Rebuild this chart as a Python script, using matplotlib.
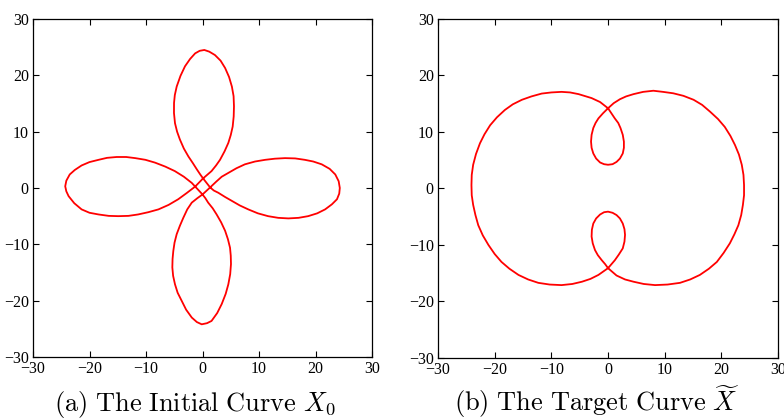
import matplotlib
matplotlib.use("Agg")
import matplotlib.pyplot as plt

plt.rcParams["mathtext.fontset"] = "cm"
plt.rcParams["font.family"] = ["Liberation Serif", "DejaVu Serif"]
plt.rcParams["axes.unicode_minus"] = True

# ---- (a) initial curve, in drawing order ----
init_x = [0.1, 1.35, 2.0,
          2.8, 4.0, 5.2, 6.6, 8.1, 9.8, 11.6, 13.4, 15.2, 17.0, 18.7, 20.3, 21.7, 22.9, 23.8,
          24.2, 24.3, 24.1, 23.5, 22.5, 21.1, 19.6, 18.1, 16.4, 14.6, 12.8, 11.1, 9.3, 7.5,
          6.0, 4.6, 3.4, 2.4, 1.35, 0.0,
          -0.9, -1.9, -2.7, -3.4, -4.0, -4.57, -4.95, -5.17, -5.3, -5.34, -5.2, -4.87, -4.4,
          -3.7, -2.9, -1.9, -1.0, -0.14, 0.8, 1.6, 2.6, 3.4, 4.1, 4.57, 4.9, 5.04, 5.0, 4.87,
          4.5, 4.0, 3.3, 2.5, 1.8, 1.0, 0.5, 0.0, -1.3,
          -1.9, -3.3, -4.9, -6.6, -8.4, -10.1, -11.9, -13.5, -15.2, -16.9, -18.4, -20.0,
          -21.4, -22.6, -23.5, -24.1, -24.3, -24.1, -23.7, -22.7, -21.4, -20.0, -18.4,
          -16.6, -14.9, -13.1, -11.4, -9.6, -7.8, -6.0, -4.3, -2.8, -1.3, 0.1,
          0.8, 1.6, 2.4, 3.1, 3.9, 4.57, 5.0, 5.34, 5.52, 5.57, 5.5, 5.2, 4.7, 4.0, 3.2, 2.2,
          1.2, 0.32, -0.5, -1.3, -2.2, -3.1, -3.9, -4.57, -4.9, -5.04, -5.05, -4.87, -4.5,
          -4.0, -3.3, -2.5, -1.7, -1.0, -0.4, 0.1]
init_y = [1.7, 0.1, -0.45,
          -0.85, -1.6, -2.3, -3.1, -3.8, -4.5, -5.0, -5.3, -5.4, -5.3, -5.0, -4.5, -3.8,
          -2.9, -2.0, -1.0, 0.0, 1.2, 2.4, 3.4, 4.2, 4.7, 5.0, 5.25, 5.3, 5.2, 5.0, 4.7,
          4.2, 3.5, 2.7, 2.0, 1.1, 0.1, -1.15,
          -1.8, -2.6, -3.8, -5.3, -6.7, -8.2, -9.7, -11.2, -12.6, -14.1, -15.6, -17.1,
          -18.6, -20.0, -21.6, -23.0, -23.8, -24.2, -24.0, -23.6, -22.2, -20.6, -18.8,
          -17.1, -15.3, -13.5, -12.0, -10.6, -9.1, -7.6, -6.1, -4.7, -3.6, -2.6, -1.8,
          -1.15, 0.25,
          0.9, 2.0, 3.0, 3.8, 4.5, 5.0, 5.3, 5.5, 5.5, 5.35, 5.0, 4.6, 4.0, 3.2, 2.4, 1.3,
          0.3, -0.6, -1.45, -2.7, -3.8, -4.4, -4.7, -4.95, -5.0, -4.95, -4.7, -4.3, -3.8,
          -3.0, -2.0, -0.9, 0.25, 1.7,
          2.3, 3.0, 4.0, 5.0, 6.5, 8.0, 9.4, 10.9, 12.7, 14.5, 16.3, 18.0, 19.7, 21.3, 22.6,
          23.6, 24.2, 24.5, 24.35, 23.9, 22.9, 21.6, 19.9, 18.0, 16.5, 15.1, 13.3, 11.5,
          10.0, 8.6, 7.0, 5.6, 4.4, 3.3, 2.4, 1.7]

# ---- (b) target curve ----
target_x = [0.0, -1.4, -2.9, -5.2, -6.7, -8.2, -10.0, -11.7, -13.5, -15.2, -16.8, -18.2,
            -19.6, -20.8, -21.8, -22.6, -23.3, -23.8, -24.05, -24.1, -24.05, -23.8, -23.4,
            -22.9, -22.1, -21.1, -20.0, -18.8, -17.4, -15.8, -14.1, -12.3, -10.3, -8.2,
            -6.3, -4.6, -3.1, -1.7, 0.0,
            0.6, 1.2, 1.9, 2.6, 2.9, 3.0, 2.9, 2.6, 2.1, 1.5, 0.8, 0.0, -0.7, -1.4, -2.1,
            -2.6, -2.85, -2.9, -2.7, -2.3, -1.8, -1.1, -0.5, 0.0,
            1.5, 3.0, 4.5, 6.3, 8.3, 10.5, 12.7, 14.5, 16.2, 17.8, 19.2, 20.4, 21.5, 22.3,
            23.0, 23.5, 23.8, 24.0, 24.0, 23.9, 23.6, 23.1, 22.4, 21.6, 20.6, 19.4, 18.0,
            16.6, 15.1, 13.3, 11.5, 9.7, 8.0, 6.2, 4.5, 3.2, 2.1, 1.0, 0.0,
            -0.9, -1.7, -2.2, -2.6, -2.9, -3.0, -2.9, -2.6, -2.1, -1.4, -0.7, 0.0, 0.8, 1.5,
            2.1, 2.6, 2.8, 2.8, 2.6, 2.2, 1.8, 1.2, 0.6, 0.0]
target_y = [14.2, 15.3, 16.0, 16.7, 17.0, 17.1, 17.0, 16.8, 16.3, 15.7, 14.9, 13.9,
            12.6, 11.2, 9.6, 8.0, 6.1, 4.2, 2.4, 0.6, -1.2, -2.9, -4.7,
            -6.5, -8.3, -10.0, -11.6, -13.0, -14.2, -15.3, -16.1, -16.7, -17.0, -17.1,
            -16.9, -16.5, -16.0, -15.3, -14.1,
            -13.4, -12.7, -11.7, -10.6, -9.4, -8.2, -7.2, -6.2, -5.3, -4.7, -4.3, -4.1,
            -4.2, -4.6, -5.3, -6.2, -7.3, -8.5, -9.7, -10.9, -11.8, -12.7, -13.4, -14.1,
            -15.4, -16.1, -16.5, -16.9, -17.1, -17.0, -16.7, -16.1, -15.3, -14.2, -13.0,
            -11.4, -9.7, -8.1, -6.5, -4.7, -2.9, -1.2, 0.6, 2.4, 4.2, 6.0, 7.7, 9.3, 10.9,
            12.3, 13.6, 14.8, 15.7, 16.4, 16.85, 17.1, 17.3, 17.1, 16.7, 16.3, 15.8, 15.1,
            14.2,
            13.3, 12.4, 11.6, 10.7, 9.5, 8.3, 7.2, 6.2, 5.3, 4.6, 4.3, 4.2, 4.3, 4.7, 5.3,
            6.2, 7.2, 8.3, 9.5, 10.7, 11.6, 12.4, 13.3, 14.2]

ticks = [-30, -20, -10, 0, 10, 20, 30]
captions = [r"$\mathrm{(a)\ The\ Initial\ Curve}\ X_0$",
            r"$\mathrm{(b)\ The\ Target\ Curve}\ \widetilde{X}$"]

fig = plt.figure(figsize=(7.84, 4.19), dpi=100)
ax1 = fig.add_axes([0.0421, 0.148, 0.4324, 0.8067])
ax2 = fig.add_axes([0.5587, 0.1456, 0.4337, 0.8091])

for ax, xs, ys in [(ax1, init_x, init_y), (ax2, target_x, target_y)]:
    ax.plot(xs, ys, color="red", lw=1.3, solid_joinstyle="round")
    ax.set_xlim(-30, 30)
    ax.set_ylim(-30, 30)
    ax.set_xticks(ticks)
    ax.set_yticks(ticks)
    ax.tick_params(direction="in", top=True, right=True, length=4, width=0.8,
                   labelsize=11.5, pad=3)
    for s in ax.spines.values():
        s.set_linewidth(0.9)

fig.text(0.249, 0.02, captions[0], ha="center", va="baseline", fontsize=19)
fig.text(0.761, 0.02, captions[1], ha="center", va="baseline", fontsize=19)

fig.savefig("out.png", dpi=100)
